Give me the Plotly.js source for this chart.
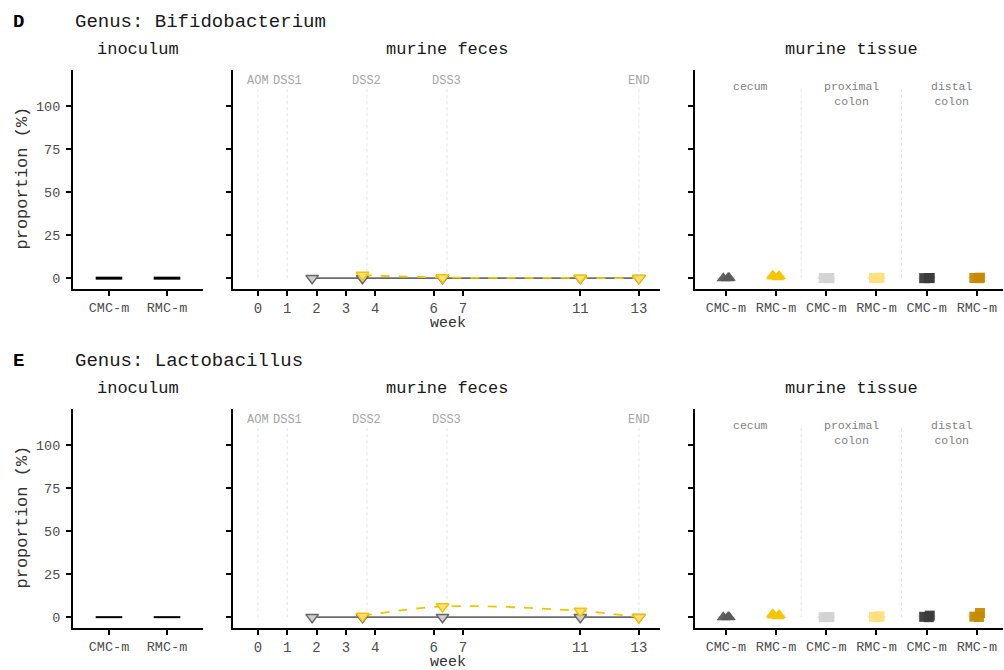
<!DOCTYPE html>
<html>
<head>
<meta charset="utf-8">
<script src="https://cdn.plot.ly/plotly-3.0.1.min.js"></script>
<style>
  html, body { margin: 0; padding: 0; background: #fff; }
  #chart { width: 1004px; height: 670px; }
</style>
</head>
<body>
<div id="chart"></div>
<script>
// ---------- data ----------
const inoculumGroups = ['CMC-m', 'RMC-m'];
const bifidoInoculum = [0, 0];
const lactoInoculum = [0, 0];

const yTicks = [0, 25, 50, 75, 100];
const weekTicks = [0, 1, 2, 3, 4, 6, 7, 11, 13];
const eventWeeks = [0, 1, 3.72, 6.45, 13];
const eventLabels = ['AOM', 'DSS1', 'DSS2', 'DSS3', 'END'];

const fecesWeeksCMC = [1.85, 3.57, 6.3, 11, 13];
const fecesWeeksRMC = [3.57, 6.3, 11, 13];
const bifidoFecesCMC = [0, 0, 0, 0, 0];
const bifidoFecesRMC = [1.8, 0.4, 0.1, 0];
const lactoFecesCMC = [0, 0, 0, 0, 0];
const lactoFecesRMC = [0.7, 6.2, 3.6, 0];

const tissueSites = ['cecum', 'proximal<br>colon', 'distal<br>colon'];
const tissueSlots = ['cecum CMC-m', 'cecum RMC-m', 'proximal CMC-m', 'proximal RMC-m', 'distal CMC-m', 'distal RMC-m'];
const tissueTickText = ['CMC-m', 'RMC-m', 'CMC-m', 'RMC-m', 'CMC-m', 'RMC-m'];
const bifidoTissue = [[0, 0, 0.2], [0.6, 1.6, 0.9, 1.3], [0, 0.1, 0], [0, 0.2, 0.1], [0, 0.1, 0], [0, 0.3, 0.1]];
const lactoTissue = [[0, 0.1, 0], [0.9, 1.7, 1.2, 0.6], [0, 0.1, 0], [0, 0.5, 0.2], [0, 0.2, 0.9], [0.3, 2.4, 0.1]];

// ---------- styling ----------
const W = 1004, H = 670;
const FONT = '"Liberation Mono", "Courier New", Courier, monospace';
const slotSymbols = ['triangle-up', 'triangle-up', 'square', 'square', 'square', 'square'];
const slotColors = ['#595959', '#F5C400', '#D3D3D3', '#FFE07F', '#3B3B3B', '#C48A00'];
const yRange = [-6.3, 121];

const px = v => v / W;          // horizontal pixel -> paper
const py = v => 1 - v / H;      // vertical pixel -> paper

const rows = [
  { tag: 'D', genus: 'Bifidobacterium', inoc: bifidoInoculum, cmc: bifidoFecesCMC, rmc: bifidoFecesRMC,
    tissue: bifidoTissue, top: 70, bottom: 289, barWidth: 3, axes: ['', '2', '3'] },
  { tag: 'E', genus: 'Lactobacillus', inoc: lactoInoculum, cmc: lactoFecesCMC, rmc: lactoFecesRMC,
    tissue: lactoTissue, top: 409, bottom: 628, barWidth: 2, axes: ['4', '5', '6'] }
];

const panelX = { inoc: [73, 203], feces: [233, 660], tissue: [695, 1003] };

const traces = [];
const annotations = [];
const shapes = [];
const layout = {
  width: W, height: H,
  margin: { l: 0, r: 0, t: 0, b: 0 },
  paper_bgcolor: '#fff', plot_bgcolor: 'rgba(0,0,0,0)',
  showlegend: false,
  font: { family: FONT, color: '#4d4d4d', size: 14 },
  boxmode: 'overlay'
};

function baseAxis(extra) {
  return Object.assign({
    showline: true, linecolor: '#000', linewidth: 2,
    ticks: 'outside', ticklen: 5, tickwidth: 2, tickcolor: '#000',
    showgrid: false, zeroline: false, fixedrange: true,
    tickfont: { family: FONT, size: 13.5, color: '#4d4d4d' }
  }, extra);
}

rows.forEach(r => {
  const [a1, a2, a3] = r.axes;
  const yDom = [py(r.bottom), py(r.top)];
  const xn = s => 'x' + s, yn = s => 'y' + s;
  const xk = s => 'xaxis' + s, yk = s => 'yaxis' + s;

  // inoculum panel
  layout[xk(a1)] = baseAxis({ domain: [px(panelX.inoc[0]), px(panelX.inoc[1])], anchor: yn(a1),
    type: 'category', categoryarray: inoculumGroups, range: [-0.62, 1.62] });
  layout[yk(a1)] = baseAxis({ domain: yDom, anchor: xn(a1), range: yRange, tickvals: yTicks, ticklabelstandoff: 3 });
  traces.push({
    type: 'scatter', mode: 'markers', x: inoculumGroups, y: r.inoc, xaxis: xn(a1), yaxis: yn(a1),
    marker: { symbol: 'line-ew', size: 19, color: '#000', line: { color: '#000', width: r.barWidth } },
    hoverinfo: 'x+y'
  });

  // murine feces panel
  layout[xk(a2)] = baseAxis({ domain: [px(panelX.feces[0]), px(panelX.feces[1])], anchor: yn(a2),
    range: [-0.85, 13.72], tickvals: weekTicks, tickfont: { family: FONT, size: 14, color: '#4d4d4d' } });
  layout[yk(a2)] = baseAxis({ domain: yDom, anchor: xn(a2), range: yRange, tickvals: yTicks, showticklabels: false });

  eventWeeks.forEach((w, i) => {
    shapes.push({ type: 'line', xref: xn(a2), yref: yn(a2), x0: w, x1: w, y0: 0, y1: 110,
      line: { color: '#e3e3e3', width: 1, dash: 'dot' }, layer: 'below' });
    annotations.push({ xref: xn(a2), yref: yn(a2), x: w, y: 114.5, text: eventLabels[i], showarrow: false,
      font: { family: FONT, size: 12, color: '#a6a6a6' }, xanchor: 'center', yanchor: 'middle' });
  });

  traces.push({
    type: 'scatter', mode: 'lines+markers', x: fecesWeeksCMC, y: r.cmc, xaxis: xn(a2), yaxis: yn(a2),
    line: { color: '#6b6b6b', width: 1.6 },
    marker: { symbol: 'triangle-down', size: 11, color: '#CFCFCF', line: { color: '#666', width: 1.5 } }
  });
  traces.push({
    type: 'scatter', mode: 'lines+markers', x: fecesWeeksRMC, y: r.rmc, xaxis: xn(a2), yaxis: yn(a2),
    line: { color: '#F5C400', width: 1.8, dash: 'dash', shape: 'spline', smoothing: 1 },
    marker: { symbol: 'triangle-down', size: 11, color: '#FFE07F', line: { color: '#F5C400', width: 1.5 } }
  });

  // murine tissue panel
  layout[xk(a3)] = baseAxis({ domain: [px(panelX.tissue[0]), px(panelX.tissue[1])], anchor: yn(a3),
    type: 'category', categoryarray: tissueSlots, tickvals: tissueSlots, ticktext: tissueTickText,
    range: [-0.615, 5.52] });
  layout[yk(a3)] = baseAxis({ domain: yDom, anchor: xn(a3), range: yRange, tickvals: yTicks, showticklabels: false });

  [1.5, 3.5].forEach(s => shapes.push({ type: 'line', xref: xn(a3), yref: yn(a3), x0: s, x1: s, y0: 0, y1: 110,
    line: { color: '#e3e3e3', width: 1, dash: 'dot' }, layer: 'below' }));
  tissueSites.forEach((site, i) => annotations.push({
    xref: xn(a3), yref: yn(a3), x: 2 * i + 0.5, y: 115.5, text: site, showarrow: false, borderpad: 0,
    font: { family: FONT, size: 11.5, color: '#7f7f7f' }, xanchor: 'center', yanchor: 'top'
  }));

  r.tissue.forEach((vals, i) => traces.push({
    type: 'box', x: vals.map(() => tissueSlots[i]), y: vals, xaxis: xn(a3), yaxis: yn(a3),
    boxpoints: 'all', jitter: 0.45, pointpos: 0, width: 0.35, whiskerwidth: 0,
    fillcolor: 'rgba(0,0,0,0)', line: { color: '#e8e8e8', width: 1 },
    marker: { symbol: slotSymbols[i], size: slotSymbols[i] === 'square' ? 10 : 12, color: slotColors[i], opacity: 0.95, line: { width: 0 } },
    hoverinfo: 'y'
  }));

  // titles
  const off = r.top - 70;
  annotations.push({ xref: 'paper', yref: 'paper', x: px(11), y: py(22 + off), text: '<b>' + r.tag + '</b>',
    showarrow: false, xanchor: 'left', yanchor: 'middle', font: { family: FONT, size: 19, color: '#000' } });
  annotations.push({ xref: 'paper', yref: 'paper', x: px(73), y: py(22 + off), text: 'Genus: ' + r.genus,
    showarrow: false, xanchor: 'left', yanchor: 'middle', font: { family: FONT, size: 19, color: '#1a1a1a' } });
  [['inoculum', 138], ['murine feces', 447], ['murine tissue', 851]].forEach(([t, cx]) => annotations.push({
    xref: 'paper', yref: 'paper', x: px(cx), y: py(49 + off), text: t, showarrow: false,
    xanchor: 'center', yanchor: 'middle', font: { family: FONT, size: 17, color: '#1a1a1a' } }));
  annotations.push({ xref: 'paper', yref: 'paper', x: px(22), y: py((r.top + r.bottom) / 2 - 1), text: 'proportion (%)',
    textangle: -90, showarrow: false, xanchor: 'center', yanchor: 'middle',
    font: { family: FONT, size: 17, color: '#333' } });
  annotations.push({ xref: 'paper', yref: 'paper', x: px(448), y: py(r.bottom + 34), text: 'week',
    showarrow: false, xanchor: 'center', yanchor: 'middle', font: { family: FONT, size: 15, color: '#333' } });
});

layout.annotations = annotations;
layout.shapes = shapes;

Plotly.newPlot('chart', traces, layout, { staticPlot: true, displayModeBar: false });
</script>
</body>
</html>
